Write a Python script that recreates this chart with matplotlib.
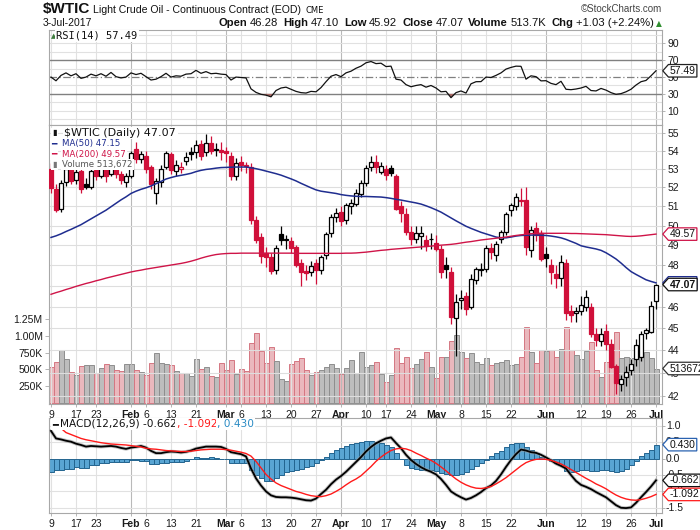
import numpy as np
import pandas as pd
import matplotlib
matplotlib.use("Agg")
import matplotlib.pyplot as plt
import matplotlib.transforms as mtransforms
from matplotlib.path import Path
from matplotlib.ticker import FixedLocator, FixedFormatter, NullLocator, NullFormatter

plt.rcParams['font.family'] = ['Liberation Sans', 'DejaVu Sans']
narrow = ['Liberation Sans Narrow', 'Liberation Sans', 'DejaVu Sans']

# ---- trading days (NYMEX holidays skipped) ----
holidays = ["2017-01-16", "2017-02-20", "2017-04-14", "2017-05-29"]
days = pd.bdate_range("2017-01-09", "2017-07-03")
days = days[~days.isin(pd.to_datetime(holidays))]

tick_dates = ["2017-01-09", "2017-01-17", "2017-01-23", "2017-02-01", "2017-02-06",
              "2017-02-13", "2017-02-21", "2017-03-01", "2017-03-06", "2017-03-13",
              "2017-03-20", "2017-03-27", "2017-04-03", "2017-04-10", "2017-04-17",
              "2017-04-24", "2017-05-01", "2017-05-08", "2017-05-15", "2017-05-22",
              "2017-06-01", "2017-06-12", "2017-06-19", "2017-06-26", "2017-07-03"]
tick_text = ["9", "17", "23", "Feb", "6", "13", "21", "Mar", "6", "13", "20", "27",
             "Apr", "10", "17", "24", "May", "8", "15", "22", "Jun", "12", "19", "26", "Jul"]

prev_close = 53.99

opens = [53.00, 51.90, 50.85, 52.30, 53.00, 52.40, 52.90, 52.20, 52.05, 52.95,
         52.60, 53.25, 52.70, 53.60, 52.70, 52.30, 52.60, 54.10, 53.55, 53.70,
         53.10, 51.70, 52.30, 53.10, 53.80, 52.90, 53.00, 53.45, 53.95, 53.90,
         54.35, 53.90, 54.40, 54.10, 54.05, 54.00, 53.70, 52.60, 53.35, 53.20,
         53.10, 50.30, 49.40, 48.60, 48.40, 47.80, 49.55, 49.25, 49.20, 48.90,
         48.10, 47.75, 47.70, 48.10, 47.80, 48.50, 49.60, 50.45, 50.70, 50.30,
         51.00, 51.15, 51.65, 52.25, 53.10, 53.40, 52.85, 53.00, 53.05, 52.60,
         51.00, 50.60, 49.70, 49.30, 49.45, 49.25, 49.30, 49.10, 48.80, 48.00,
         47.70, 45.50, 46.35, 46.50, 46.00, 47.30, 47.80, 47.85, 48.85, 48.50,
         49.30, 49.70, 50.80, 51.00, 51.30, 51.35, 48.75, 49.90, 49.60, 48.55,
         48.00, 47.60, 47.40, 48.10, 45.80, 45.70, 45.80, 46.00, 46.00, 44.75,
         44.40, 44.90, 44.30, 43.30, 42.50, 42.80, 43.10, 43.60, 43.70, 44.80,
         44.85, 46.28]
highs = [53.30, 52.20, 52.40, 53.30, 53.20, 53.00, 53.10, 52.50, 53.10, 53.20,
         53.40, 53.40, 53.90, 53.70, 52.90, 52.80, 54.00, 54.50, 54.00, 54.00,
         53.20, 52.50, 53.20, 54.00, 53.90, 53.50, 53.40, 53.90, 54.20, 54.60,
         54.60, 54.95, 54.80, 54.40, 54.50, 54.20, 53.90, 53.60, 53.70, 53.40,
         53.30, 50.50, 49.60, 48.90, 48.60, 49.00, 50.00, 49.50, 49.40, 49.00,
         48.30, 48.00, 48.20, 48.30, 48.50, 49.70, 50.60, 50.90, 51.00, 51.20,
         51.40, 51.90, 52.40, 53.20, 53.70, 53.75, 53.40, 53.20, 53.20, 52.70,
         51.30, 50.90, 50.00, 50.00, 50.00, 49.50, 49.60, 49.50, 49.00, 48.40,
         47.90, 46.60, 46.80, 46.70, 47.60, 47.90, 48.10, 49.00, 49.10, 49.20,
         49.80, 50.70, 51.20, 51.70, 51.95, 52.00, 50.00, 50.20, 49.80, 48.90,
         48.30, 48.00, 48.50, 48.30, 46.10, 46.00, 46.50, 46.80, 46.20, 45.00,
         45.00, 45.20, 44.50, 43.40, 42.90, 43.30, 43.60, 44.50, 44.90, 45.00,
         46.30, 47.10]
lows = [51.70, 50.70, 50.70, 52.10, 52.20, 52.20, 51.70, 51.90, 51.90, 52.40,
        52.50, 52.30, 52.60, 52.50, 52.20, 52.00, 52.50, 53.30, 53.30, 52.80,
        51.90, 51.10, 52.00, 53.00, 52.70, 52.60, 52.80, 53.20, 53.50, 53.60,
        53.50, 53.70, 53.80, 53.70, 53.50, 53.40, 52.40, 52.40, 52.90, 52.80,
        50.10, 49.10, 48.10, 47.90, 47.60, 47.60, 49.00, 48.80, 48.60, 47.90,
        47.00, 47.30, 47.50, 47.10, 47.60, 48.30, 49.40, 50.20, 50.00, 50.10,
        50.60, 51.00, 51.50, 52.10, 52.90, 52.80, 52.70, 52.40, 52.60, 50.80,
        50.20, 49.50, 49.00, 49.10, 48.80, 48.70, 48.80, 48.70, 47.40, 47.40,
        45.20, 43.76, 45.90, 45.60, 45.90, 47.10, 47.50, 47.70, 48.30, 48.20,
        49.10, 49.50, 50.50, 50.80, 51.00, 48.50, 48.40, 49.20, 48.20, 47.90,
        47.10, 46.90, 47.00, 45.40, 45.30, 45.30, 45.60, 45.80, 44.60, 44.20,
        44.20, 44.00, 43.20, 42.05, 42.20, 42.40, 42.90, 43.30, 43.50, 44.50,
        44.80, 45.92]
closes = [51.96, 50.82, 52.25, 53.01, 52.37, 52.85, 51.90, 52.05, 52.90, 52.60,
          53.18, 52.60, 53.78, 52.70, 52.40, 52.60, 53.88, 53.54, 53.83, 53.01,
          52.17, 52.34, 53.00, 53.86, 52.93, 53.20, 53.11, 53.65, 53.80, 54.30,
          53.70, 54.45, 54.00, 54.05, 53.95, 53.85, 52.61, 53.33, 53.20, 53.14,
          50.28, 49.28, 48.49, 48.40, 47.72, 48.86, 49.25, 49.30, 48.85, 48.00,
          47.70, 47.65, 47.95, 47.80, 48.40, 49.55, 50.45, 50.65, 50.25, 51.05,
          51.20, 51.70, 52.25, 53.05, 53.40, 53.10, 53.15, 52.65, 52.75, 50.85,
          50.65, 49.70, 49.30, 49.60, 49.62, 48.97, 49.33, 48.84, 47.66, 47.82,
          45.52, 46.22, 46.43, 45.88, 47.33, 47.83, 47.84, 48.85, 48.66, 49.07,
          49.70, 50.60, 51.05, 51.47, 51.36, 48.90, 49.80, 49.50, 48.32, 48.36,
          47.66, 47.40, 48.19, 45.72, 45.64, 45.83, 46.08, 46.46, 44.73, 44.46,
          44.74, 44.30, 43.23, 42.53, 42.74, 43.01, 43.38, 44.24, 44.74, 44.93,
          46.04, 47.07]
volume_k = [531, 610, 789, 655, 457, 412, 551, 561, 561, 442,
            516, 576, 561, 491, 472, 576, 576, 491, 457, 412,
            591, 744, 591, 576, 561, 472, 442, 442, 397, 655,
            506, 531, 397, 382, 591, 491, 640, 427, 506, 472,
            893, 1042, 774, 591, 829, 625, 352, 323, 576, 620,
            670, 491, 412, 457, 491, 531, 576, 516, 427, 516,
            640, 442, 754, 536, 565, 615, 432, 318, 412, 814,
            590, 680, 516, 576, 650, 754, 536, 367, 690, 680,
            922, 1007, 764, 675, 744, 615, 576, 665, 561, 590,
            615, 640, 565, 576, 680, 1126, 754, 590, 789, 774,
            789, 680, 799, 1136, 789, 710, 655, 774, 903, 491,
            382, 615, 615, 1061, 665, 680, 665, 665, 695, 754,
            665, 513.672]
ma50 = [49.40, 49.48, 49.58, 49.70, 49.81, 49.93, 50.05, 50.20, 50.35, 50.50,
        50.65, 50.80, 50.98, 51.16, 51.34, 51.50, 51.68, 51.80, 51.90, 51.98,
        52.08, 52.20, 52.32, 52.45, 52.53, 52.60, 52.65, 52.70, 52.76, 52.85,
        52.92, 52.97, 53.00, 53.04, 53.07, 53.08, 53.09, 53.10, 53.10, 53.10,
        53.06, 53.01, 52.95, 52.88, 52.81, 52.74, 52.66, 52.56, 52.46, 52.35,
        52.22, 52.10, 51.98, 51.87, 51.80, 51.76, 51.72, 51.68, 51.62, 51.58,
        51.55, 51.53, 51.52, 51.52, 51.51, 51.50, 51.49, 51.46, 51.42, 51.37,
        51.33, 51.28, 51.23, 51.18, 51.12, 51.03, 50.93, 50.82, 50.70, 50.55,
        50.40, 50.25, 50.11, 49.97, 49.86, 49.76, 49.66, 49.58, 49.50, 49.42,
        49.38, 49.38, 49.42, 49.47, 49.50, 49.51, 49.52, 49.52, 49.51, 49.50,
        49.47, 49.43, 49.38, 49.30, 49.20, 49.10, 48.98, 48.92, 48.87, 48.82,
        48.75, 48.63, 48.48, 48.32, 48.12, 47.90, 47.70, 47.56, 47.43, 47.30,
        47.22, 47.15]
ma200 = [46.60, 46.68, 46.75, 46.83, 46.90, 46.98, 47.05, 47.12, 47.18, 47.25,
         47.31, 47.38, 47.44, 47.50, 47.56, 47.62, 47.68, 47.73, 47.77, 47.82,
         47.86, 47.90, 47.94, 47.98, 48.02, 48.06, 48.10, 48.15, 48.21, 48.28,
         48.36, 48.43, 48.49, 48.54, 48.57, 48.59, 48.60, 48.60, 48.61, 48.61,
         48.61, 48.61, 48.61, 48.61, 48.61, 48.61, 48.61, 48.61, 48.61, 48.60,
         48.60, 48.60, 48.60, 48.60, 48.60, 48.60, 48.60, 48.60, 48.60, 48.61,
         48.61, 48.62, 48.64, 48.66, 48.69, 48.72, 48.75, 48.77, 48.80, 48.82,
         48.84, 48.86, 48.88, 48.90, 48.92, 48.94, 48.96, 48.99, 49.01, 49.03,
         49.05, 49.08, 49.12, 49.16, 49.19, 49.23, 49.27, 49.30, 49.33, 49.36,
         49.39, 49.42, 49.46, 49.50, 49.53, 49.56, 49.59, 49.60, 49.61, 49.61,
         49.61, 49.61, 49.61, 49.61, 49.60, 49.60, 49.59, 49.58, 49.57, 49.56,
         49.55, 49.54, 49.52, 49.50, 49.48, 49.46, 49.45, 49.46, 49.48, 49.51,
         49.54, 49.57]
rsi = [50.0, 45.6, 52.0, 55.0, 51.5, 54.0, 48.5, 50.0, 53.5, 51.5,
       54.0, 51.0, 55.5, 50.5, 49.0, 50.0, 55.0, 53.0, 54.5, 50.5,
       46.5, 47.5, 50.5, 54.5, 50.0, 51.5, 51.0, 53.5, 54.0, 58.0,
       54.5, 56.5, 54.0, 54.5, 53.5, 53.0, 46.5, 50.0, 49.5, 49.0,
       36.0, 31.8, 29.5, 28.5, 26.5, 34.0, 37.0, 38.0, 35.5, 33.0,
       31.5, 31.0, 33.0, 32.5, 37.5, 44.5, 51.0, 53.0, 50.5, 55.0,
       57.0, 60.5, 63.0, 67.0, 68.5, 66.0, 66.5, 62.5, 63.0, 47.5,
       46.5, 41.0, 38.5, 40.0, 41.0, 38.0, 40.0, 37.0, 32.5, 33.0,
       25.5, 31.5, 33.5, 31.0, 42.0, 44.5, 44.6, 50.0, 49.5, 52.0,
       55.0, 59.5, 61.5, 63.0, 62.8, 47.5, 51.5, 50.5, 45.5, 45.7,
       42.5, 41.0, 45.0, 35.5, 35.0, 35.8, 37.0, 39.0, 34.0, 33.5,
       36.5, 34.5, 31.5, 29.5, 30.3, 32.5, 35.5, 40.5, 44.5, 46.0,
       51.5, 57.49]
macd = [0.85, 0.62, 0.59, 0.55, 0.52, 0.46, 0.42, 0.37, 0.39, 0.38,
        0.37, 0.38, 0.39, 0.37, 0.33, 0.30, 0.34, 0.36, 0.39, 0.34,
        0.24, 0.17, 0.17, 0.20, 0.22, 0.21, 0.19, 0.21, 0.25, 0.31,
        0.34, 0.37, 0.37, 0.37, 0.36, 0.30, 0.20, 0.17, 0.14, 0.07,
        -0.30, -0.60, -0.82, -1.00, -1.12, -1.17, -1.18, -1.18, -1.19, -1.21,
        -1.24, -1.27, -1.28, -1.22, -1.08, -0.95, -0.78, -0.64, -0.53, -0.40,
        -0.25, -0.10, 0.05, 0.22, 0.36, 0.47, 0.55, 0.62, 0.65, 0.48,
        0.32, 0.12, -0.04, -0.16, -0.26, -0.34, -0.40, -0.48, -0.62, -0.80,
        -1.00, -1.10, -1.18, -1.25, -1.20, -1.12, -1.02, -0.90, -0.82, -0.68,
        -0.48, -0.25, -0.04, 0.14, 0.28, 0.25, 0.20, 0.18, 0.12, 0.04,
        -0.05, -0.15, -0.22, -0.30, -0.50, -0.68, -0.80, -0.86, -0.93, -1.02,
        -1.10, -1.18, -1.30, -1.42, -1.50, -1.51, -1.49, -1.35, -1.18, -1.02,
        -0.85, -0.662]
signal = [1.30, 1.10, 0.93, 0.80, 0.74, 0.68, 0.62, 0.58, 0.55, 0.52,
          0.49, 0.47, 0.45, 0.44, 0.43, 0.42, 0.40, 0.38, 0.36, 0.32,
          0.30, 0.29, 0.27, 0.25, 0.24, 0.23, 0.22, 0.22, 0.23, 0.25,
          0.27, 0.28, 0.29, 0.29, 0.29, 0.28, 0.26, 0.23, 0.20, 0.16,
          0.08, -0.08, -0.28, -0.48, -0.62, -0.74, -0.82, -0.88, -0.94, -1.00,
          -1.04, -1.09, -1.13, -1.15, -1.16, -1.13, -1.08, -1.00, -0.91, -0.80,
          -0.70, -0.62, -0.52, -0.38, -0.24, -0.08, 0.05, 0.16, 0.25, 0.30,
          0.32, 0.30, 0.25, 0.17, 0.10, 0.02, -0.05, -0.14, -0.25, -0.37,
          -0.50, -0.62, -0.72, -0.80, -0.86, -0.90, -0.91, -0.89, -0.85, -0.77,
          -0.68, -0.58, -0.46, -0.34, -0.22, -0.12, -0.06, -0.02, -0.01, -0.02,
          -0.05, -0.10, -0.16, -0.24, -0.33, -0.42, -0.51, -0.60, -0.68, -0.77,
          -0.84, -0.92, -1.02, -1.11, -1.18, -1.23, -1.26, -1.27, -1.25, -1.21,
          -1.16, -1.092]
hist = [-0.40, -0.35, -0.35, -0.30, -0.30, -0.24, -0.27, -0.27, -0.19, -0.19,
        -0.14, -0.14, -0.10, -0.10, -0.09, -0.09, -0.04, -0.04, -0.06, -0.06,
        -0.17, -0.17, -0.12, -0.12, -0.09, -0.09, -0.11, -0.06, -0.02, 0.04,
        0.03, 0.03, 0.04, 0.03, -0.01, -0.02, -0.12, -0.12, -0.14, -0.14,
        -0.35, -0.50, -0.60, -0.67, -0.67, -0.60, -0.50, -0.42, -0.38, -0.33,
        -0.30, -0.25, -0.21, -0.12, -0.04, 0.04, 0.16, 0.28, 0.34, 0.39,
        0.45, 0.49, 0.52, 0.54, 0.55, 0.52, 0.47, 0.42, 0.35, 0.18,
        -0.01, -0.19, -0.27, -0.30, -0.33, -0.35, -0.35, -0.37, -0.43, -0.47,
        -0.50, -0.50, -0.47, -0.40, -0.30, -0.22, -0.14, -0.04, 0.08, 0.18,
        0.25, 0.35, 0.45, 0.49, 0.49, 0.37, 0.27, 0.18, 0.06, -0.01,
        -0.06, -0.14, -0.19, -0.38, -0.40, -0.37, -0.35, -0.33, -0.37, -0.37,
        -0.35, -0.35, -0.38, -0.40, -0.37, -0.30, -0.19, -0.06, 0.08, 0.16,
        0.27, 0.430]
macd_ticks = [1.0, 0.5, 0.0, -0.5, -1.0, -1.5]

# ---------------------------------------------------------------
o = np.array(opens); h = np.array(highs); l = np.array(lows); c = np.array(closes)
vol = np.array(volume_k) * 1000.0
x = np.arange(len(days))
tick_pos = [days.get_loc(pd.Timestamp(d)) for d in tick_dates]

W, H = 700, 530
fig = plt.figure(figsize=(W / 100, H / 100), dpi=100)
ID = mtransforms.IdentityTransform()


def panel(top, bottom):
    return fig.add_axes([49 / W, 1 - bottom / H, 613 / W, (bottom - top) / H])


ax_rsi = panel(30, 125)
ax_px = panel(125, 404)
ax_macd = panel(418, 513)
ax_vol = ax_px.twinx()
ax_px.set_zorder(ax_vol.get_zorder() + 1)
ax_px.patch.set_visible(False)
ax_vol.patch.set_visible(True)
ax_vol.patch.set_facecolor('white')


def style(ax, labels):
    ax.set_xlim(-0.4, 122.2)
    for s in ax.spines.values():
        s.set_color('#a8a8a8')
        s.set_linewidth(0.8)
    ax.xaxis.set_major_locator(FixedLocator(tick_pos))
    ax.tick_params(axis='both', labelsize=7.5, colors='#a8a8a8', labelcolor='#1a1a1a',
                   length=2.5, width=0.6, pad=1.5)
    if labels:
        ax.xaxis.set_major_formatter(FixedFormatter(tick_text))
        for t in ax.get_xticklabels():
            if t.get_text().isalpha():
                t.set_fontweight('bold')
    else:
        ax.tick_params(axis='x', labelbottom=False, length=0)
    for k, t in zip(tick_pos, tick_text):
        ax.axvline(k, color='#b9b9b9' if t.isalpha() else '#e1e1e1', lw=0.8, zorder=0.5)


style(ax_rsi, False)
style(ax_px, True)
style(ax_macd, True)
ax_vol.set_xlim(-0.4, 122.2)
for s in ax_vol.spines.values():
    s.set_visible(False)

# ---------------- RSI ----------------
r = np.array(rsi)
ax_rsi.set_ylim(-7, 106)
for g in range(0, 101, 10):
    if g not in (30, 50, 70):
        ax_rsi.axhline(g, color='#e1e1e1', lw=0.8, zorder=0.5)
ax_rsi.axhline(70, color='#808080', lw=1.0, zorder=1)
ax_rsi.axhline(30, color='#808080', lw=1.0, zorder=1)
ax_rsi.axhline(50, color='#808080', lw=0.9, ls=(0, (6, 2, 1, 2)), zorder=1)
ax_rsi.fill_between(x, r, 30, where=r < 30, interpolate=True, color='#a86a66', lw=0, zorder=2)
ax_rsi.plot(x, r, color='#111111', lw=0.9, zorder=3)
ax_rsi.yaxis.tick_right()
ax_rsi.yaxis.set_major_locator(FixedLocator([10, 30, 50, 70, 90]))
ax_rsi.yaxis.set_major_formatter(FixedFormatter(['10', '30', '50', '70', '90']))

# ---------------- price + volume ----------------
prev = np.r_[prev_close, c[:-1]]
up = c >= prev
col = np.where(up, '#000000', '#d0103a')
vcol = np.where(up, '#bdbdbd', '#eab8bd')
vedge = np.where(up, '#8e8e8e', '#d57682')
ax_vol.bar(x, vol, width=1.0, color=vcol, edgecolor=vedge, linewidth=0.7, zorder=1)
ax_vol.set_ylim(-15000, 4.14e6)
ax_vol.yaxis.tick_left()
vt = [250000, 500000, 750000, 1000000, 1250000]
ax_vol.yaxis.set_major_locator(FixedLocator(vt))
ax_vol.yaxis.set_major_formatter(FixedFormatter(['250K', '500K', '750K', '1.00M', '1.25M']))
ax_vol.tick_params(axis='y', labelsize=7.5, colors='#a8a8a8', labelcolor='#1a1a1a',
                   length=3, width=0.6, pad=1.5)

ax_px.set_yscale('log')
ax_px.set_ylim(41.64, 55.44)
pt = list(range(42, 56))
ax_px.yaxis.set_major_locator(FixedLocator(pt))
ax_px.yaxis.set_major_formatter(FixedFormatter([str(p) for p in pt]))
ax_px.yaxis.set_minor_locator(NullLocator())
ax_px.yaxis.tick_right()
for p in pt:
    ax_px.axhline(p, color='#dedede', lw=0.8, zorder=0.5)

body_lo = np.minimum(o, c)
body_hi = np.maximum(o, c)
face = np.where(c > o, 'white', col)
ax_px.vlines(x, l, h, colors=col, lw=0.9, zorder=3)
ax_px.bar(x, body_hi - body_lo, bottom=body_lo, width=0.74, color=face, edgecolor=col,
          linewidth=0.9, zorder=4)
ax_px.plot(x, ma50, color='#1f2d8f', lw=1.1, zorder=5)
ax_px.plot(x, ma200, color='#cf1448', lw=1.0, zorder=5)

# ---------------- MACD ----------------
ax_macd.set_ylim(-1.66, 1.245)
for g in macd_ticks:
    if g != 0.0:
        ax_macd.axhline(g, color='#e1e1e1', lw=0.8, zorder=0.5)
ax_macd.bar(x, hist, width=1.0, color='#59a5d3', edgecolor='#23648f', linewidth=0.7, zorder=2)
ax_macd.plot(x, macd, color='#9a9a9a', lw=2.6, alpha=0.6, zorder=3)
ax_macd.plot(x, macd, color='#000000', lw=1.3, zorder=4)
ax_macd.plot(x, signal, color='#ff1a1a', lw=1.0, zorder=4)
ax_macd.yaxis.tick_right()
ax_macd.yaxis.set_major_locator(FixedLocator(macd_ticks))
ax_macd.yaxis.set_major_formatter(NullFormatter())
ax_macd.set_ylim(-1.66, 1.245)


# ---------------- value tags on the right ----------------
def tag_shape(x0, y0, width, height, mutation_size):
    pad = mutation_size * 0.12
    x0, y0 = x0 - pad, y0 - pad
    w, hh = width + 2 * pad, height + 2 * pad
    return Path([(x0, y0), (x0 + w, y0), (x0 + w, y0 + hh), (x0, y0 + hh),
                 (x0 - hh * 0.45, y0 + hh / 2), (x0, y0)], closed=True)


def tag(ax, yval, text, ec, weight='normal', ytrans=None):
    trans = mtransforms.blended_transform_factory(ax.transAxes, ytrans or ax.transData)
    ax.annotate(text, xy=(1.0, yval), xycoords=trans, xytext=(5.5, 0),
                textcoords='offset points', ha='left', va='center', fontsize=7.5,
                fontweight=weight, color='#111111', annotation_clip=False, zorder=30,
                bbox=dict(boxstyle=tag_shape, fc='white', ec=ec, lw=0.9))


# ---------------- texts in pixel coordinates ----------------
def ptext(xp, yp, s, **kw):
    return fig.text(xp, H - yp, s, transform=ID, **kw)


# MACD scale labels, placed in pixels from the axis transform (drawn under the tags)
for v in macd_ticks:
    yp = H - ax_macd.transData.transform((0, v))[1]
    ptext(666, yp, '%.1f' % v, fontsize=7.5, va='center', ha='left', color='#1a1a1a',
          zorder=2)

tag(ax_rsi, rsi[-1], '%.2f' % rsi[-1], '#222222')
tag(ax_px, ma200[-1], '%.2f' % ma200[-1], '#cf1448')
tag(ax_px, ma50[-1], '%.2f' % ma50[-1], '#1f2d8f')
tag(ax_px, closes[-1], '%.2f' % closes[-1], '#111111', weight='bold')
tag(ax_px, vol[-1], '%d' % round(vol[-1]), '#333333', ytrans=ax_vol.transData)
ax_macd.set_zorder(4)
tag(ax_macd, hist[-1], '%.3f' % hist[-1], '#2a62b0')
tag(ax_macd, macd[-1], '%.3f' % macd[-1], '#111111')
tag(ax_macd, signal[-1], '%.3f' % signal[-1], '#ff1a1a')

WHITE = dict(boxstyle='square,pad=0.12', fc='white', ec='none')

ptext(50.5, 36, '\u25b2', fontsize=5, color='#3d7d3d', va='center', family='DejaVu Sans')
ptext(56, 36, 'RSI(14) %.2f' % rsi[-1], fontsize=7.5, family='DejaVu Sans Mono',
      va='center', color='#111111', bbox=WHITE)

ptext(52, 133, '\u25ae', fontsize=6, color='#111111', va='center', family='DejaVu Sans',
      bbox=WHITE)
ptext(64.5, 133, '$WTIC (Daily) %.2f' % closes[-1], fontsize=8, family='DejaVu Sans',
      va='center', color='#111111', bbox=WHITE)
ptext(51.5, 143.5, '\u2501', fontsize=6.5, color='#1f2d8f', va='center', family='DejaVu Sans',
      bbox=WHITE)
ptext(62.5, 143.5, 'MA(50) %.2f' % ma50[-1], fontsize=6.2, family='DejaVu Sans',
      va='center', color='#1f2d8f', bbox=WHITE)
ptext(51.5, 154, '\u2501', fontsize=6.5, color='#cf1448', va='center', family='DejaVu Sans',
      bbox=WHITE)
ptext(62.5, 154, 'MA(200) %.2f' % ma200[-1], fontsize=6.2, family='DejaVu Sans',
      va='center', color='#cf1448', bbox=WHITE)
ptext(52, 164.5, '\u25ae', fontsize=6, color='#777777', va='center', family='DejaVu Sans',
      bbox=WHITE)
ptext(62.5, 164.5, 'Volume {:,}'.format(int(round(vol[-1]))), fontsize=6.2,
      family='DejaVu Sans', va='center', color='#555555', bbox=WHITE)

R = fig.canvas.get_renderer()


def run(xp, yp, pieces, align='left'):
    arts = [(ptext(0, yp, s, va='baseline', zorder=6, **kw), gap) for s, kw, gap in pieces]
    widths = [a.get_window_extent(R).width for a, _ in arts]
    total = sum(widths) + sum(g for _, g in arts[:-1])
    cur = xp - total if align == 'right' else xp
    for (a, gap), w in zip(arts, widths):
        a.set_x(cur)
        cur += w + gap


run(52, 427, [('\u2501', dict(fontsize=7, color='#111111', family='DejaVu Sans',
                              bbox=WHITE), 2),
              ('MACD(12,26,9) %.3f' % macd[-1], dict(fontsize=7.6, color='#111111',
                                                     family='DejaVu Sans', bbox=WHITE), 0),
              (', %.3f' % signal[-1], dict(fontsize=7.6, color='#ff1a1a',
                                           family='DejaVu Sans', bbox=WHITE), 0),
              (', %.3f' % hist[-1], dict(fontsize=7.6, color='#2a8bc4',
                                         family='DejaVu Sans', bbox=WHITE), 0)])

run(43, 12.7, [('$WTIC', dict(fontsize=11, fontweight='bold', family=narrow,
                              color='#111111'), 3),
               ('Light Crude Oil - Continuous Contract (EOD)',
                dict(fontsize=7.6, family=narrow, color='#111111'), 4),
               ('CME', dict(fontsize=6, family='DejaVu Sans', color='#111111'), 0)])
ptext(43, 26, days[-1].strftime('%-d-%b-%Y'), fontsize=7.5, family=narrow,
      va='baseline', color='#111111')
ptext(662, 11.5, '\u00a9StockCharts.com', fontsize=7, ha='right', va='baseline',
      color='#444444')

chg = closes[-1] - closes[-2]
pct = chg / closes[-2] * 100
B = dict(fontsize=8.1, fontweight='bold', family=narrow, color='#111111')
N = dict(fontsize=8.1, family=narrow, color='#111111')
run(662, 26, [('Open', B, 2.5), ('%.2f' % opens[-1], N, 5),
              ('High', B, 2.5), ('%.2f' % highs[-1], N, 5),
              ('Low', B, 2.5), ('%.2f' % lows[-1], N, 5),
              ('Close', B, 2.5), ('%.2f' % closes[-1], N, 5),
              ('Volume', B, 2.5), ('%.1fK' % (vol[-1] / 1000), N, 5),
              ('Chg', B, 2.5), ('%+.2f (%+.2f%%)' % (chg, pct), N, 2.5),
              ('\u25b2', dict(fontsize=5.5, color='#2f8f2f', family='DejaVu Sans'), 0)],
    align='right')

fig.savefig('out.png', dpi=100)
